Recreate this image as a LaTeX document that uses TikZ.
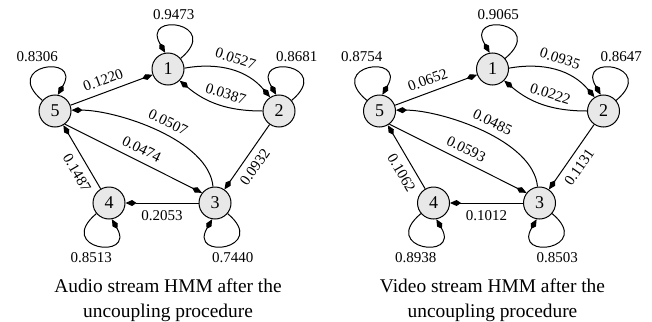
\documentclass[tikz,border=0pt]{standalone}
\usepackage{fontspec}
\setmainfont{Liberation Serif}
\usetikzlibrary{arrows.meta}

\begin{document}
\begin{tikzpicture}[x=0.5pt,y=0.5pt,
    state/.style={circle,draw,line width=0.5pt,fill=black!9,minimum size=16pt,inner sep=0pt,font=\fontsize{9}{10}\selectfont},
    prob/.style={font=\fontsize{7.5}{9}\selectfont},
    tr/.style={-{Kite[length=5.5pt,width=3pt,inset=2.2pt]},line width=0.5pt},
    capt/.style={align=center,anchor=north,inner sep=0pt,font=\fontsize{9.7}{12.6}\selectfont}]
    \useasboundingbox (0,0) rectangle (652,-321);

    % audio stream
    \node[state] (a1) at (168,-69) {1};
    \node[state] (a2) at (279,-111) {2};
    \node[state] (a3) at (215,-203) {3};
    \node[state] (a4) at (109,-203) {4};
    \node[state] (a5) at (55,-111) {5};

    \draw[tr] (a1.40) .. controls +(40:55) and +(120:48) .. (a1.100) node[prob,pos=0.5,above,xshift=-3pt] (pa11) {0.9473};
    \draw[tr] (a2.40) .. controls +(40:55) and +(120:48) .. (a2.100) node[prob,pos=0.5,above,xshift=3pt] (pa22) {0.8681};
    \draw[tr] (a5.140) .. controls +(140:55) and +(60:48) .. (a5.80) node[prob,pos=0.5,above,xshift=-3pt] (pa55) {0.8306};
    \draw[tr] (a4.-140) .. controls +(-140:55) and +(-60:48) .. (a4.-80) node[prob,pos=0.5,below,xshift=-3pt] (pa44) {0.8513};
    \draw[tr] (a3.-40) .. controls +(-40:55) and +(-120:48) .. (a3.-100) node[prob,pos=0.5,below,xshift=3pt] (pa33) {0.7440};

    \draw[tr] (a5) -- (a1) node[prob,pos=0.45,above,sloped] (pa51) {0.1220};
    \draw[tr] (a1.3) to[out=10,in=130] node[prob,pos=0.5,above,sloped] (pa12) {0.0527} (a2.123);
    \draw[tr] (a2.180) to[out=180,in=-40] node[prob,pos=0.45,above,sloped] (pa21) {0.0387} (a1.-45);
    \draw[tr] (a3.97) .. controls +(95:47) and +(0:45) .. (a5.3) node[prob,pos=0.47,above,sloped] (pa35) {0.0507};
    \draw[tr] (a5.-53) -- (a3.142) node[prob,pos=0.52,above,sloped] (pa53) {0.0474};
    \draw[tr] (a2) -- (a3) node[prob,pos=0.55,below,sloped] (pa23) {0.0932};
    \draw[tr] (a4) -- (a5) node[prob,pos=0.35,below,sloped] (pa45) {0.1487};
    \draw[tr] (a3) -- (a4) node[prob,pos=0.5,below] (pa34) {0.2053};

    \node[capt] (acap) at (168,-278) {Audio stream HMM after the\\uncoupling procedure};

    % video stream
    \begin{scope}[shift={(324.5,0)}]
    \node[state] (v1) at (168,-69) {1};
    \node[state] (v2) at (279,-111) {2};
    \node[state] (v3) at (215,-203) {3};
    \node[state] (v4) at (109,-203) {4};
    \node[state] (v5) at (55,-111) {5};

    \draw[tr] (v1.40) .. controls +(40:55) and +(120:48) .. (v1.100) node[prob,pos=0.5,above,xshift=-3pt] (pv11) {0.9065};
    \draw[tr] (v2.40) .. controls +(40:55) and +(120:48) .. (v2.100) node[prob,pos=0.5,above,xshift=3pt] (pv22) {0.8647};
    \draw[tr] (v5.140) .. controls +(140:55) and +(60:48) .. (v5.80) node[prob,pos=0.5,above,xshift=-3pt] (pv55) {0.8754};
    \draw[tr] (v4.-140) .. controls +(-140:55) and +(-60:48) .. (v4.-80) node[prob,pos=0.5,below,xshift=-3pt] (pv44) {0.8938};
    \draw[tr] (v3.-40) .. controls +(-40:55) and +(-120:48) .. (v3.-100) node[prob,pos=0.5,below,xshift=3pt] (pv33) {0.8503};

    \draw[tr] (v5) -- (v1) node[prob,pos=0.45,above,sloped] (pv51) {0.0652};
    \draw[tr] (v1.3) to[out=10,in=130] node[prob,pos=0.5,above,sloped] (pv12) {0.0935} (v2.123);
    \draw[tr] (v2.180) to[out=180,in=-40] node[prob,pos=0.45,above,sloped] (pv21) {0.0222} (v1.-45);
    \draw[tr] (v3.97) .. controls +(95:47) and +(0:45) .. (v5.3) node[prob,pos=0.47,above,sloped] (pv35) {0.0485};
    \draw[tr] (v5.-53) -- (v3.142) node[prob,pos=0.52,above,sloped] (pv53) {0.0593};
    \draw[tr] (v2) -- (v3) node[prob,pos=0.55,below,sloped] (pv23) {0.1131};
    \draw[tr] (v4) -- (v5) node[prob,pos=0.35,below,sloped] (pv45) {0.1062};
    \draw[tr] (v3) -- (v4) node[prob,pos=0.5,below] (pv34) {0.1012};

    \node[capt] (vcap) at (168,-278) {Video stream HMM after the\\uncoupling procedure};
    \end{scope}
\end{tikzpicture}
\end{document}
